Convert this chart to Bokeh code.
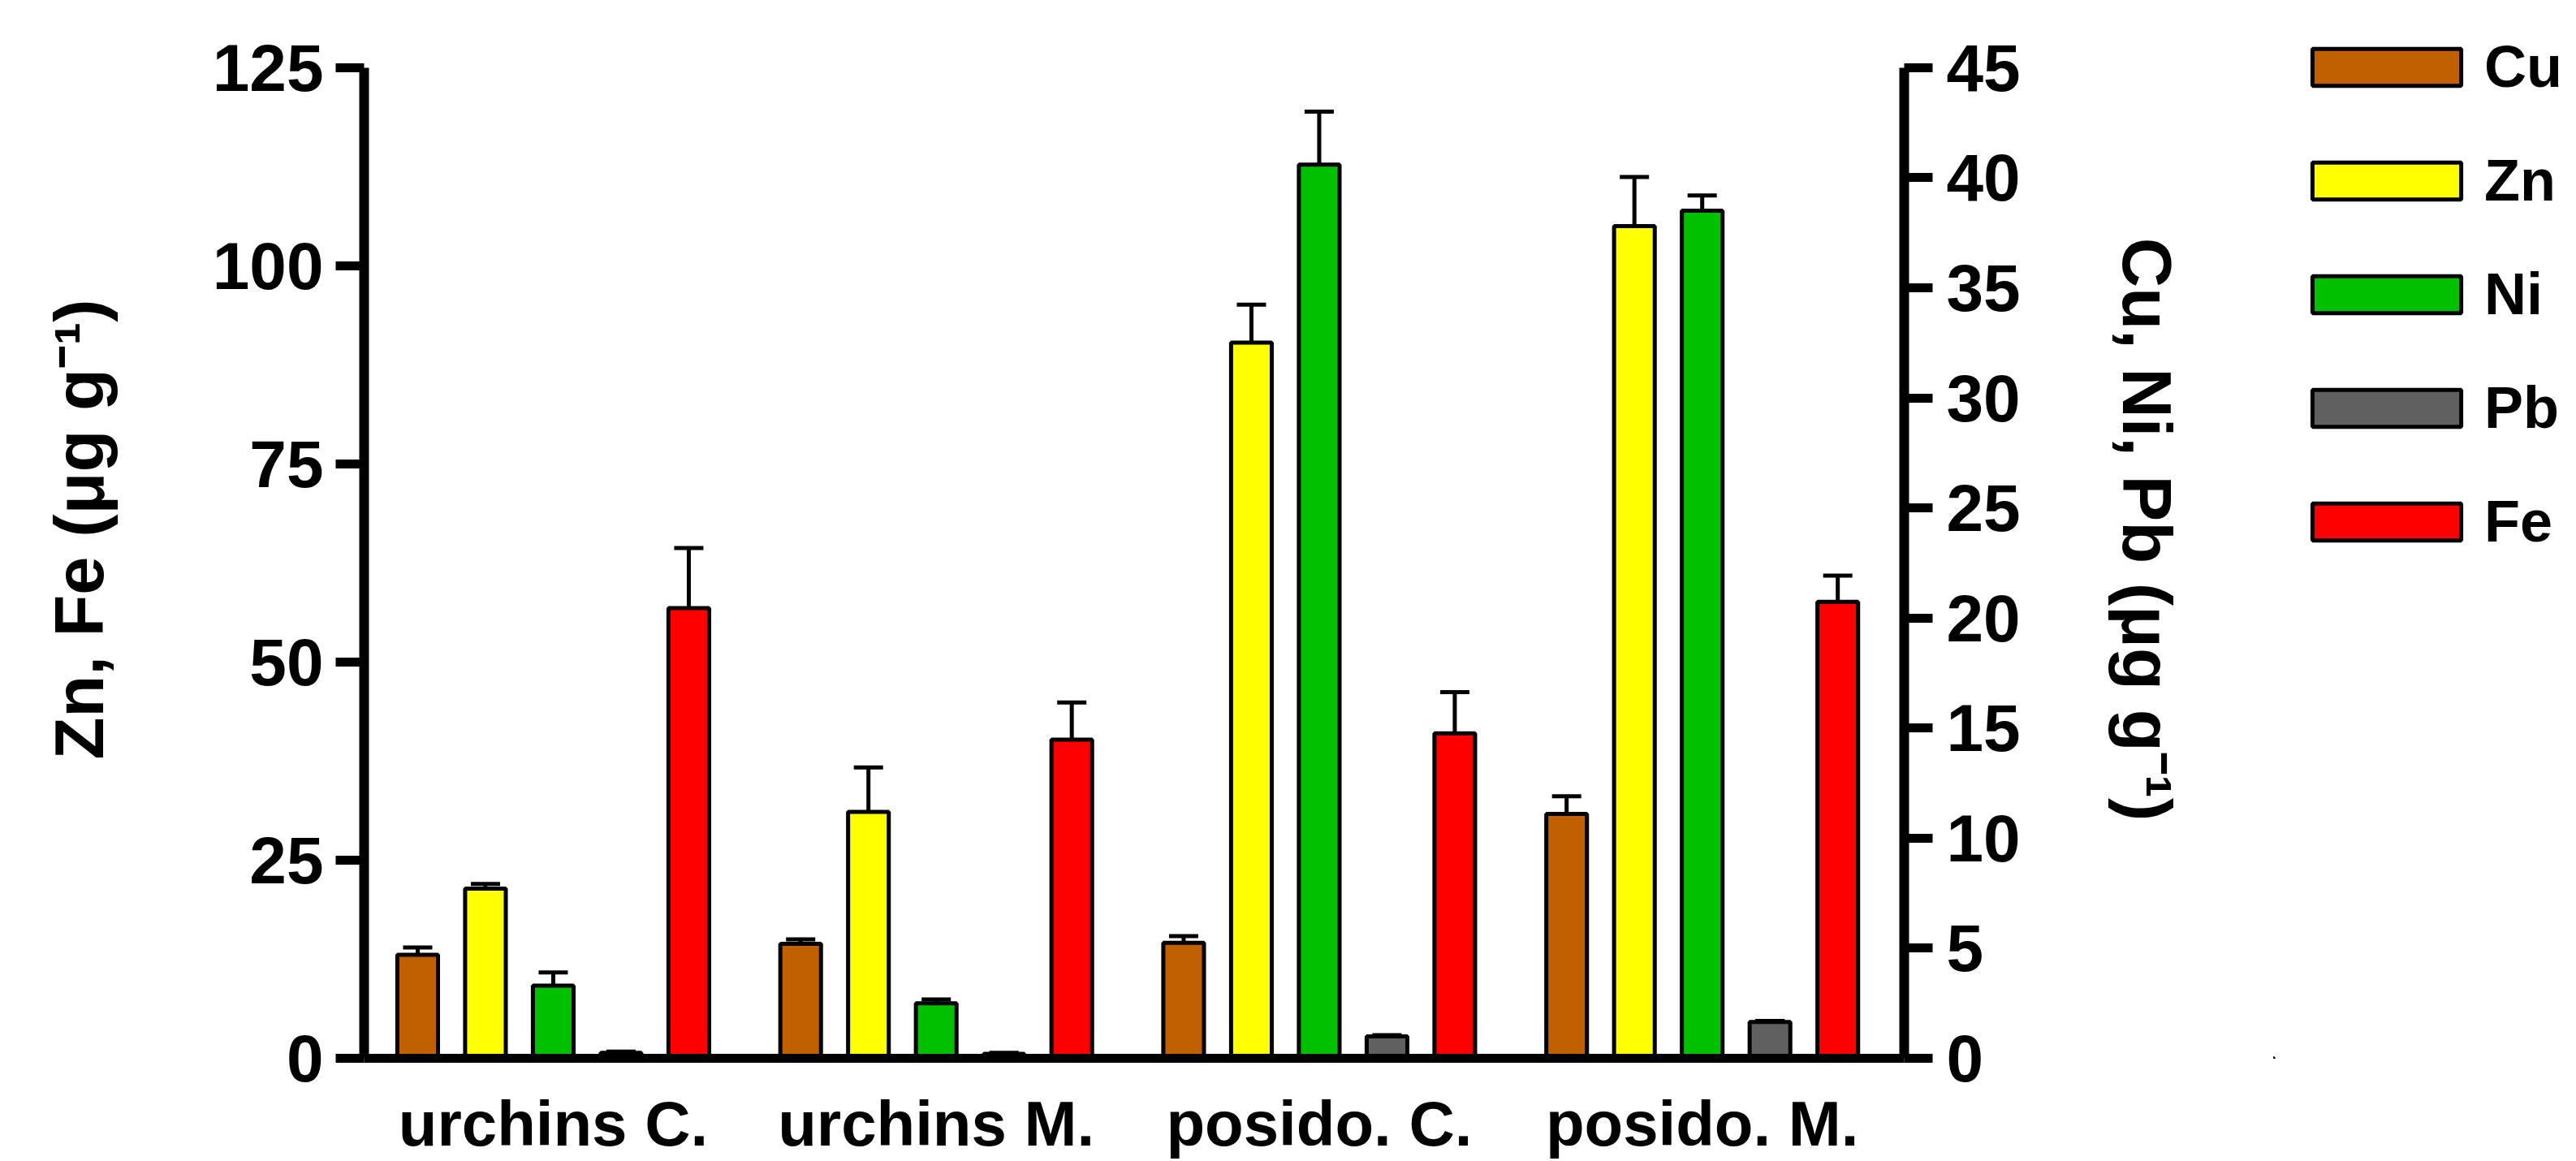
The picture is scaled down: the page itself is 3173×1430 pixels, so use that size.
from bokeh.plotting import figure
from bokeh.layouts import row
from bokeh.models import (Range1d, LinearAxis, FixedTicker, Whisker, TeeHead,
                          ColumnDataSource, Legend, LegendItem)
from bokeh.embed import file_html
from bokeh.resources import INLINE

# ---------------- data ----------------
groups = ["urchins C.", "urchins M.", "posido. C.", "posido. M."]
metals = ["Cu", "Zn", "Ni", "Pb", "Fe"]
colors = ["#C06000", "#FFFF00", "#00C000", "#606060", "#FF0000"]
axis_of = ["right", "left", "right", "right", "left"]

cu = [4.7, 5.2, 5.25, 11.1]
cu_err = [0.33, 0.2, 0.3, 0.8]
zn = [21.4, 31.1, 90.3, 105.0]
zn_err = [0.6, 5.6, 4.8, 6.2]
ni = [3.3, 2.5, 40.6, 38.5]
ni_err = [0.6, 0.17, 2.4, 0.7]
pb = [0.25, 0.2, 1.0, 1.65]
pb_err = [0.05, 0.05, 0.05, 0.05]
fe = [56.8, 40.2, 41.0, 57.6]
fe_err = [7.6, 4.7, 5.2, 3.3]

values = [cu, zn, ni, pb, fe]
errors = [cu_err, zn_err, ni_err, pb_err, fe_err]

left_ticks = [0, 25, 50, 75, 100, 125]
right_ticks = [0, 5, 10, 15, 20, 25, 30, 35, 40, 45]
LEFT_MAX = 125
RIGHT_MAX = 45

# ---------------- layout constants ----------------
GROUP_STEP = 5.65
BAR_W = 0.6
FONT = "Liberation Sans"
H = 1430
MAIN_W = 2800
LEG_W = 3173 - MAIN_W
BASE_PX = 1305      # baseline position (px from top)
TOP_PX = 83         # position of the axis maxima (px from top)
scale_up = BASE_PX / (BASE_PX - TOP_PX)

p = figure(width=MAIN_W, height=H, output_backend="svg", toolbar_location=None,
           x_range=Range1d(-0.79, 21.93), y_range=Range1d(0, LEFT_MAX * scale_up),
           min_border_left=448, min_border_right=MAIN_W - 2345,
           min_border_top=0, min_border_bottom=H - BASE_PX)
p.extra_y_ranges = {"right": Range1d(0, RIGHT_MAX * scale_up)}
p.outline_line_color = None
p.xgrid.visible = False
p.ygrid.visible = False
p.background_fill_color = "white"
p.border_fill_color = "white"

right_axis = LinearAxis(y_range_name="right")
p.add_layout(right_axis, "right")

def style_y(ax, ticks, label, standoff_label, label_standoff, top):
    ax.ticker = FixedTicker(ticks=ticks)
    ax.bounds = (0, top)
    ax.axis_label = label
    ax.axis_label_text_font = FONT
    ax.axis_label_text_font_size = "85px"
    ax.axis_label_text_font_style = "bold"
    ax.axis_label_text_color = "black"
    ax.axis_label_standoff = label_standoff
    ax.major_label_text_font = FONT
    ax.major_label_text_font_size = "82px"
    ax.major_label_text_font_style = "bold"
    ax.major_label_text_color = "black"
    ax.major_label_standoff = standoff_label
    ax.axis_line_width = 12
    ax.axis_line_color = "black"
    ax.major_tick_line_width = 11
    ax.major_tick_line_color = "black"
    ax.major_tick_out = 35
    ax.major_tick_in = 0
    ax.minor_tick_line_color = None

style_y(p.yaxis[0], left_ticks, "Zn, Fe (\u03bcg g\u207b\u00b9)", 15, 114, LEFT_MAX)
style_y(right_axis, right_ticks, "Cu, Ni, Pb (\u03bcg g\u207b\u00b9)", 17, 105, RIGHT_MAX)

centers = [g * GROUP_STEP + 2 for g in range(len(groups))]
xa = p.xaxis[0]
xa.ticker = FixedTicker(ticks=centers)
xa.major_label_overrides = {c: g for c, g in zip(centers, groups)}
xa.major_label_text_font = FONT
xa.major_label_text_font_size = "78px"
xa.major_label_text_font_style = "bold"
xa.major_label_text_color = "black"
xa.major_label_standoff = 36
xa.major_tick_out = 0
xa.major_tick_in = 0
xa.minor_tick_line_color = None
xa.axis_line_width = 11
xa.axis_line_color = "black"

for m, (name, col, ax, vals, errs) in enumerate(zip(metals, colors, axis_of, values, errors)):
    xs = [g * GROUP_STEP + m for g in range(len(groups))]
    src = ColumnDataSource(dict(x=xs, top=vals, upper=[v + e for v, e in zip(vals, errs)]))
    yr = "right" if ax == "right" else "default"
    w = Whisker(base="x", lower="top", upper="upper", source=src, dimension="height",
                line_width=5, line_color="black",
                upper_head=TeeHead(size=36, line_width=5, line_color="black"),
                lower_head=None, y_range_name=yr)
    p.add_layout(w)
    p.vbar(x="x", top="top", width=BAR_W, source=src, fill_color=col,
           line_color="black", line_width=5, y_range_name=yr)

# ---------------- legend panel ----------------
lg = figure(width=LEG_W, height=H, output_backend="svg", toolbar_location=None,
            x_range=Range1d(0, 1), y_range=Range1d(0, 1),
            x_axis_location=None, y_axis_location=None,
            min_border_left=0, min_border_right=0,
            min_border_top=0, min_border_bottom=H - BASE_PX)
lg.outline_line_color = None
lg.grid.visible = False
lg.background_fill_color = "white"
lg.border_fill_color = "white"

items = []
for name, col in zip(metals, colors):
    # legend-only proxy glyph, placed far outside the visible range
    r = lg.vbar(x=[-100], top=[-100], bottom=[-100], width=0.5, fill_color=col,
                line_color="black", line_width=5)
    items.append(LegendItem(label=name, renderers=[r]))

legend = Legend(items=items, location=(25, 620), glyph_width=229, glyph_height=57,
                label_standoff=6, spacing=58, padding=0, margin=0,
                border_line_color=None, background_fill_alpha=0,
                label_text_font=FONT, label_text_font_size="72px",
                label_text_font_style="bold", label_text_color="black")
lg.add_layout(legend)

layout = row(p, lg, spacing=0)
open("out.html", "w").write(file_html(layout, INLINE))
